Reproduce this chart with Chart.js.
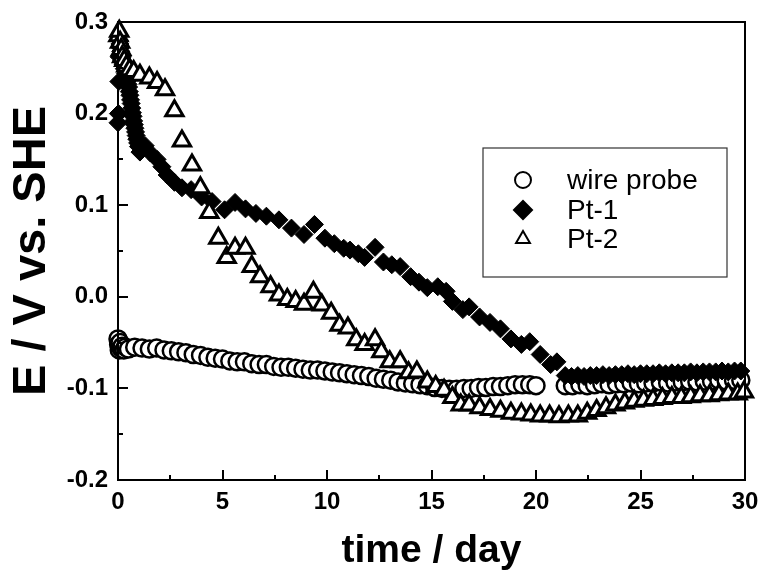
<!DOCTYPE html>
<html>
<head>
<meta charset="utf-8">
<title>E vs time</title>
<script src="https://cdn.jsdelivr.net/npm/chart.js@4.4.1/dist/chart.umd.min.js"></script>
<style>
    html, body { margin: 0; padding: 0; background: #ffffff; }
    #wrap { width: 760px; height: 571px; }
</style>
</head>
<body>
<div id="wrap"><canvas id="potentialChart" width="760" height="571"></canvas></div>
<script>
// ===================================
// Potencial vs tiempo - wire probe / Pt-1 / Pt-2
// ===================================

// wire probe (círculos)
const wireDays = [0.00, 0.03, 0.06, 0.10, 0.14, 0.20, 0.28, 0.36, 0.50,
    0.80, 1.15, 1.50, 1.85, 2.20, 2.55, 2.90, 3.25, 3.60, 3.95, 4.30, 4.65, 5.00, 5.35, 5.70,
    6.05, 6.40, 6.75, 7.10, 7.45, 7.80, 8.15, 8.50, 8.85, 9.20, 9.55, 9.90, 10.25, 10.60,
    10.95, 11.30, 11.65, 12.00, 12.35, 12.70, 13.05, 13.40, 13.75, 14.10, 14.45, 14.80,
    15.15, 15.50, 15.85, 16.20, 16.55, 16.90, 17.25, 17.60, 17.95, 18.30, 18.65, 19.00,
    19.35, 19.70, 20.00,
    21.40, 21.75, 22.10, 22.45, 22.80, 23.15, 23.50, 23.85, 24.20, 24.55, 24.90, 25.25,
    25.60, 25.95, 26.30, 26.65, 27.00, 27.35, 27.70, 28.05, 28.40, 28.75, 29.10, 29.45, 29.80];
const wireE = [-0.046, -0.052, -0.058, -0.050, -0.056, -0.054, -0.058, -0.055, -0.057,
    -0.055, -0.056, -0.057, -0.056, -0.058, -0.059, -0.060, -0.061, -0.063, -0.064, -0.066, -0.067, -0.068, -0.070, -0.071,
    -0.071, -0.073, -0.074, -0.074, -0.076, -0.077, -0.077, -0.078, -0.079, -0.080, -0.080, -0.081, -0.082, -0.083,
    -0.084, -0.085, -0.086, -0.087, -0.089, -0.090, -0.091, -0.093, -0.094, -0.095, -0.096, -0.097,
    -0.099, -0.100, -0.101, -0.101, -0.100, -0.100, -0.099, -0.099, -0.098, -0.098, -0.097, -0.096,
    -0.096, -0.096, -0.097,
    -0.097, -0.097, -0.096, -0.097, -0.096, -0.095, -0.096, -0.095, -0.095, -0.094, -0.095, -0.094,
    -0.094, -0.093, -0.094, -0.093, -0.093, -0.092, -0.093, -0.092, -0.092, -0.091, -0.092, -0.091, -0.091];

// Pt-1 (rombos)
const pt1Days = [0.00, 0.02, 0.04, 0.05, 0.07, 0.09, 0.11, 0.13, 0.15, 0.18, 0.21, 0.24, 0.27,
    0.30, 0.33, 0.36, 0.39, 0.42, 0.45, 0.48, 0.51, 0.54, 0.57, 0.60, 0.63, 0.66, 0.69,
    0.72, 0.75, 0.78, 0.81, 0.84, 0.87, 0.90, 0.94, 0.98, 1.05, 1.30, 1.55,
    1.87, 2.10, 2.35, 2.70, 3.06, 3.50, 4.00, 4.50, 5.10, 5.60, 6.10, 6.60, 7.10, 7.70, 8.30,
    8.90, 9.40, 9.90, 10.35, 10.80, 11.10, 11.50, 11.80, 12.30, 12.70, 13.10, 13.50, 14.00,
    14.40, 14.80, 15.30, 15.70, 16.00, 16.50, 16.80, 17.30, 17.80, 18.30, 18.80, 19.30,
    19.70, 20.20, 20.70, 21.00,
    21.40, 21.70, 22.00, 22.30, 22.60, 22.90, 23.20, 23.50, 23.80, 24.10, 24.40, 24.70,
    25.00, 25.30, 25.60, 25.90, 26.20, 26.50, 26.80, 27.10, 27.40, 27.70, 28.00, 28.30,
    28.60, 28.90, 29.20, 29.50, 29.80];
const pt1E = [0.190, 0.200, 0.235, 0.262, 0.280, 0.276, 0.272, 0.268, 0.263, 0.258, 0.262, 0.254, 0.257,
    0.249, 0.251, 0.244, 0.246, 0.239, 0.236, 0.232, 0.229, 0.224, 0.220, 0.215, 0.211, 0.206, 0.201,
    0.197, 0.192, 0.188, 0.184, 0.180, 0.176, 0.172, 0.168, 0.164, 0.158, 0.165, 0.157,
    0.150, 0.142, 0.133, 0.125, 0.119, 0.117, 0.109, 0.104, 0.095, 0.103, 0.096, 0.091, 0.088, 0.084, 0.075,
    0.068, 0.079, 0.064, 0.058, 0.053, 0.051, 0.047, 0.043, 0.054, 0.038, 0.035, 0.033, 0.022,
    0.016, 0.010, 0.011, 0.006, -0.005, -0.014, -0.011, -0.022, -0.028, -0.035, -0.046, -0.052,
    -0.049, -0.063, -0.074, -0.071,
    -0.086, -0.087, -0.086, -0.087, -0.086, -0.086, -0.085, -0.086, -0.085, -0.085, -0.084, -0.085,
    -0.084, -0.084, -0.084, -0.083, -0.084, -0.083, -0.083, -0.083, -0.082, -0.083, -0.082, -0.082,
    -0.082, -0.081, -0.082, -0.081, -0.081];

// Pt-2 (triángulos)
const pt2Days = [0.02, 0.06, 0.10, 0.15, 0.20, 0.30, 0.40, 0.55, 0.75,
    1.05, 1.50, 1.87, 2.25, 2.70, 3.06, 3.54, 3.94, 4.37, 4.80, 5.20, 5.60, 6.10, 6.40,
    6.80, 7.30, 7.70, 8.10, 8.50, 8.90, 9.35, 9.75, 10.20, 10.60, 11.00, 11.40, 11.80,
    12.30, 12.60, 13.00, 13.50, 13.90, 14.30, 14.80, 15.20, 15.60, 16.00, 16.40, 16.80,
    17.30, 17.80, 18.30, 18.80, 19.30, 19.75, 20.20, 20.65, 21.10, 21.55, 22.00, 22.45,
    22.90, 23.35, 23.80, 24.25, 24.70, 25.15, 25.60, 26.05, 26.50, 26.95, 27.40, 27.85,
    28.30, 28.75, 29.20, 29.65, 29.95];
const pt2E = [0.285, 0.290, 0.278, 0.270, 0.262, 0.258, 0.252, 0.248, 0.246,
    0.242, 0.239, 0.234, 0.226, 0.203, 0.170, 0.144, 0.119, 0.092, 0.064, 0.043, 0.053, 0.053, 0.033,
    0.022, 0.011, 0.002, -0.003, -0.005, -0.008, 0.005, -0.009, -0.018, -0.031, -0.034, -0.047, -0.052,
    -0.047, -0.060, -0.071, -0.071, -0.083, -0.082, -0.093, -0.098, -0.102, -0.110, -0.118, -0.118,
    -0.121, -0.123, -0.125, -0.127, -0.128, -0.129, -0.130, -0.130, -0.131, -0.130, -0.130, -0.127,
    -0.124, -0.121, -0.118, -0.116, -0.114, -0.113, -0.112, -0.111, -0.110, -0.110, -0.109, -0.108,
    -0.108, -0.107, -0.106, -0.106, -0.104];

const seriesLabels = ['wire probe', 'Pt-1', 'Pt-2'];

// Ejes
const X_MIN = 0, X_MAX = 30, X_STEP = 5, X_MINOR = 2.5;
const Y_MIN = -0.2, Y_MAX = 0.3, Y_STEP = 0.1, Y_MINOR = 0.05;

function toPoints(xs, ys) {
    return xs.map((x, i) => ({ x: x, y: ys[i] }));
}

// Marco y marcas de escala hacia dentro
const frameTicksPlugin = {
    id: 'frameTicks',
    afterDatasetsDraw(chart) {
        const { ctx, chartArea: a, scales } = chart;
        const xs = scales.x, ys = scales.y;
        ctx.save();
        ctx.strokeStyle = '#000';
        ctx.lineWidth = 2;
        ctx.strokeRect(a.left, a.top, a.right - a.left, a.bottom - a.top);
        ctx.beginPath();
        for (let v = X_MIN; v <= X_MAX + 1e-9; v += X_MINOR) {
            const px = Math.round(xs.getPixelForValue(v));
            const major = Math.abs(v / X_STEP - Math.round(v / X_STEP)) < 1e-6;
            ctx.moveTo(px, a.bottom);
            ctx.lineTo(px, a.bottom - (major ? 10 : 5));
        }
        for (let v = Y_MIN; v <= Y_MAX + 1e-9; v += Y_MINOR) {
            const py = Math.round(ys.getPixelForValue(v));
            const major = Math.abs(v / Y_STEP - Math.round(v / Y_STEP)) < 1e-6;
            ctx.moveTo(a.left, py);
            ctx.lineTo(a.left + (major ? 10 : 5), py);
        }
        ctx.stroke();
        ctx.restore();
    }
};

// Leyenda con recuadro dentro del gráfico
const boxLegendPlugin = {
    id: 'boxLegend',
    afterDraw(chart) {
        const { ctx } = chart;
        const box = { left: 483, top: 148, right: 727, bottom: 277 };
        const rows = [180, 210, 239];
        const symbolX = 523, textX = 567;
        const legendRadius = [8, 9, 8];
        ctx.save();
        ctx.fillStyle = '#fff';
        ctx.fillRect(box.left, box.top, box.right - box.left, box.bottom - box.top);
        ctx.strokeStyle = '#333';
        ctx.lineWidth = 1.2;
        ctx.strokeRect(box.left, box.top, box.right - box.left, box.bottom - box.top);
        chart.data.datasets.forEach((ds, i) => {
            ctx.fillStyle = ds.pointBackgroundColor;
            ctx.strokeStyle = ds.pointBorderColor;
            ctx.lineWidth = 2;
            Chart.helpers.drawPoint(ctx, {
                pointStyle: ds.pointStyle,
                radius: legendRadius[i],
                rotation: 0,
                borderWidth: 2
            }, symbolX, rows[i]);
            ctx.fillStyle = '#000';
            ctx.font = '28px "Liberation Sans", Arial, sans-serif';
            ctx.textAlign = 'left';
            ctx.textBaseline = 'middle';
            ctx.fillText(ds.label, textX, rows[i] + 1);
        });
        ctx.restore();
    }
};

const ctx = document.getElementById('potentialChart');

const potentialChart = new Chart(ctx, {
    type: 'scatter',
    data: {
        datasets: [
            {
                label: seriesLabels[0],
                data: toPoints(wireDays, wireE),
                pointStyle: 'circle',
                pointRadius: 8.5,
                pointBorderWidth: 2.5,
                pointBackgroundColor: '#ffffff',
                pointBorderColor: '#000000',
                order: 2,
                clip: false
            },
            {
                label: seriesLabels[1],
                data: toPoints(pt1Days, pt1E),
                pointStyle: 'rectRot',
                pointRadius: 9,
                pointBorderWidth: 1,
                pointBackgroundColor: '#000000',
                pointBorderColor: '#000000',
                order: 1,
                clip: false
            },
            {
                label: seriesLabels[2],
                data: toPoints(pt2Days, pt2E),
                pointStyle: 'triangle',
                pointRadius: 10,
                pointBorderWidth: 3,
                pointBackgroundColor: '#ffffff',
                pointBorderColor: '#000000',
                order: 0,
                clip: false
            }
        ]
    },
    options: {
        responsive: false,
        animation: false,
        devicePixelRatio: 1,
        layout: {
            padding: { top: 22, right: 15, left: 0, bottom: 0 }
        },
        plugins: {
            legend: { display: false },
            tooltip: { enabled: false }
        },
        scales: {
            x: {
                type: 'linear',
                min: X_MIN,
                max: X_MAX,
                grid: { display: false, drawTicks: false },
                border: { display: false },
                ticks: {
                    stepSize: X_STEP,
                    padding: 8,
                    color: '#000',
                    font: { family: '"Liberation Sans", Arial, sans-serif', size: 24, weight: 'bold' },
                    maxRotation: 0
                },
                title: {
                    display: true,
                    text: 'time / day',
                    color: '#000',
                    font: { family: '"Liberation Sans", Arial, sans-serif', size: 39, weight: 'bold', lineHeight: 1 },
                    padding: { top: 0, bottom: 0 }
                },
                afterFit: function(scale) {
                    scale.height = 91;
                    scale.paddingLeft = 0;
                    scale.paddingRight = 0;
                }
            },
            y: {
                type: 'linear',
                min: Y_MIN,
                max: Y_MAX,
                grid: { display: false, drawTicks: false },
                border: { display: false },
                ticks: {
                    stepSize: Y_STEP,
                    padding: 10,
                    color: '#000',
                    font: { family: '"Liberation Sans", Arial, sans-serif', size: 24, weight: 'bold' },
                    callback: function(value) {
                        return Math.abs(value) < 1e-9 ? '0.0' : value.toFixed(1);
                    }
                },
                title: {
                    display: true,
                    text: 'E / V vs. SHE',
                    color: '#000',
                    font: { family: '"Liberation Sans", Arial, sans-serif', size: 47, weight: 'bold', lineHeight: 1 },
                    padding: { top: 9, bottom: 0 }
                },
                afterFit: function(scale) {
                    scale.width = 118;
                    scale.paddingTop = 0;
                    scale.paddingBottom = 0;
                }
            }
        }
    },
    plugins: [frameTicksPlugin, boxLegendPlugin]
});
</script>
</body>
</html>
